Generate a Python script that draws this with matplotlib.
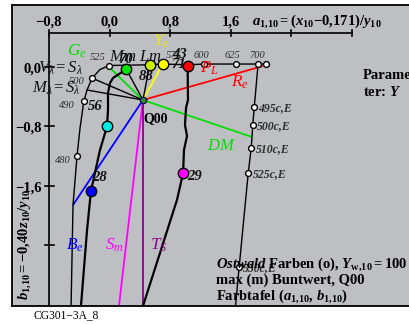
import matplotlib
matplotlib.use("Agg")
import matplotlib.pyplot as plt

plt.rcParams['font.family'] = ['Liberation Serif', 'DejaVu Serif']
plt.rcParams['mathtext.fontset'] = 'custom'
plt.rcParams['mathtext.rm'] = 'Liberation Serif'
plt.rcParams['mathtext.it'] = 'Liberation Serif:italic'
plt.rcParams['mathtext.bf'] = 'Liberation Serif:bold'
plt.rcParams['mathtext.bfit'] = 'Liberation Serif:bold:italic'

# ---- axis scales -------------------------------------------------------
a_ticks = [-0.8, 0.0, 0.8, 1.6, 2.4, 3.2]
a_tick_labels = ['−0,8', '0,0', '0,8', '1,6', '', '']
b_ticks = [0.0, -0.8, -1.6, -2.4]
b_tick_labels = ['0,0', '−0,8', '−1,6', '']
axis_b = 0.46          # height of the drawn a-axis
axis_a = -0.8          # position of the drawn b-axis

# ---- achromatic point Q00 ----------------------------------------------
q00_a, q00_b = 0.44, -0.445

# ---- spectral locus (left branch, top edge) ----------------------------
locus_a = [-0.51, -0.483, -0.43, -0.39, -0.34, -0.298, -0.23, -0.127, -0.01,
           0.53, 0.70, 1.03, 1.25, 1.67, 1.96, 2.06]
locus_b = [-3.30, -1.86, -1.20, -0.82, -0.46, -0.31, -0.15, -0.034, 0.02,
           0.03, 0.04, 0.03, 0.04, 0.04, 0.04, 0.04]
wl_labels = ['480', '490', '500', '525', '600', '625', '700', '']
wl_a = [-0.43, -0.34, -0.23, -0.01, 1.25, 1.67, 1.96, 2.06]
wl_b = [-1.20, -0.46, -0.15, 0.02, 0.04, 0.04, 0.04, 0.04]

# ---- compensatory wavelengths (c,E) ------------------------------------
comp_line_a = [1.96, 1.91, 1.89, 1.87, 1.83, 1.71, 1.655]
comp_line_b = [0.04, -0.54, -0.78, -1.09, -1.43, -2.70, -3.30]
comp_labels = ['495c,E', '500c,E', '510c,E', '525c,E', '550c,E']
comp_a = [1.91, 1.89, 1.87, 1.83, 1.71]
comp_b = [-0.54, -0.78, -1.09, -1.43, -2.70]

# ---- Ostwald colours of maximum chroma ---------------------------------
ost_labels = ['70', '88', '43', '71', '56', '28', '29']
ost_a = [0.22, 0.53, 0.70, 1.03, -0.034, -0.246, 0.97]
ost_b = [-0.03, 0.03, 0.04, 0.01, -0.80, -1.67, -1.43]
ost_colors = ['#00e000', '#c8f000', '#ffff00', '#ff0000', '#00e8e8', '#0000ff', '#ff00ff']

# thick hue-series curves through the Ostwald colours
gb_curve_a = [0.22, 0.045, 0.005, -0.021, -0.021, -0.034, -0.127, -0.246, -0.298, -0.384]
gb_curve_b = [-0.03, -0.148, -0.216, -0.35, -0.58, -0.80, -1.12, -1.67, -2.20, -3.30]
rm_curve_a = [1.03, 1.035, 1.009, 0.995, 1.022, 0.982, 0.97, 0.89, 0.416]
rm_curve_b = [0.01, -0.445, -0.55, -0.78, -0.93, -1.12, -1.43, -1.79, -3.30]

# ---- lines from Q00 to elementary and limiting hues --------------------
hue_names = ['Ge', 'Ye', 'Re', 'DM', 'Be', 'Sm', 'TS']
hue_end_a = [-0.021, 0.70, 2.025, 1.88, -0.483, 0.115, 0.44]
hue_end_b = [0.013, 0.04, 0.013, -0.943, -1.86, -3.30, -3.30]
hue_colors = ['#00e000', '#ffff00', '#ff0000', '#00e000', '#0000ff', '#ff00ff', '#8b008b']

# black rays from Q00 (Vλ=Sλ, Mλ=Sλ and to the max-chroma colours)
ray_end_a = [-0.23, -0.298, 0.22, 0.53]
ray_end_b = [-0.15, -0.31, -0.03, 0.03]

# ------------------------------------------------------------------------
W, H = 409, 324
fig = plt.figure(figsize=(W / 100, H / 100), dpi=100)
fig.patch.set_facecolor('white')

ax = fig.add_axes([12 / W, (H - 306) / H, 400 / W, 301 / H])
ax.set_xlim(-1.2884, 3.992)
ax.set_ylim(-3.221, 0.8356)
ax.set_facecolor('#bebfc3')
ax.set_xticks([])
ax.set_yticks([])
for side in ('left', 'top', 'bottom'):
    ax.spines[side].set_linewidth(1.3)
ax.spines['right'].set_visible(False)

# drawn axes with ticks
ax.plot([a_ticks[0], a_ticks[-1]], [axis_b, axis_b], color='black', lw=1.2)
ax.plot([axis_a, axis_a], [axis_b, -3.4], color='black', lw=1.2)
for a, lab in zip(a_ticks, a_tick_labels):
    ax.plot([a, a], [axis_b - 0.045, axis_b + 0.04], color='black', lw=1.2)
    if lab:
        ax.annotate(lab, (a, axis_b), xytext=(0, 7.5), textcoords='offset points',
                    ha='center', va='center', fontsize=10.5, fontweight='bold')
for b, lab in zip(b_ticks, b_tick_labels):
    ax.plot([axis_a - 0.05, axis_a + 0.07], [b, b], color='black', lw=1.2)
    if lab:
        ax.annotate(lab, (axis_a, b), xytext=(-5.5, -1.5), textcoords='offset points',
                    ha='right', va='center', fontsize=10.5, fontweight='bold')

# coloured hue lines from Q00
for ea, eb, c in zip(hue_end_a, hue_end_b, hue_colors):
    ax.plot([q00_a, ea], [q00_b, eb], color=c, lw=1.3, solid_capstyle='butt')

# black rays
for ea, eb in zip(ray_end_a, ray_end_b):
    ax.plot([q00_a, ea], [q00_b, eb], color='black', lw=1.0)

# spectral locus and compensatory line
ax.plot(locus_a, locus_b, color='black', lw=1.0)
ax.plot(comp_line_a, comp_line_b, color='black', lw=1.0)

# thick hue-series curves
ax.plot(gb_curve_a, gb_curve_b, color='black', lw=1.6)
ax.plot(rm_curve_a, rm_curve_b, color='black', lw=1.6)

# markers
ax.plot(wl_a, wl_b, 'o', ms=4.2, mfc='white', mec='black', mew=1.0, ls='none', zorder=5)
ax.plot(comp_a, comp_b, 'o', ms=4.2, mfc='white', mec='black', mew=1.0, ls='none', zorder=5)
for a, b, c in zip(ost_a, ost_b, ost_colors):
    ax.plot(a, b, 'o', ms=7.5, mfc=c, mec='black', mew=1.0, zorder=6)
ax.plot(q00_a, q00_b, 'o', ms=4.5, mfc='#2f8f2f', mec='#101060', mew=1.0, zorder=6)

grey = '#2e2e2e'
# wavelength labels
wl_off = [(-16, -5), (-18, -5), (-17, -4), (-14, 4), (-8, 4), (-8, 4), (-6, 4), (0, 0)]
for lab, a, b, off in zip(wl_labels, wl_a, wl_b, wl_off):
    if lab:
        ax.annotate(lab, (a, b), xytext=off, textcoords='offset points',
                    fontsize=7.5, style='italic', color=grey, ha='left', va='baseline')
for lab, a, b in zip(comp_labels, comp_a, comp_b):
    ax.annotate(lab, (a, b), xytext=(3, -3), textcoords='offset points',
                fontsize=8.5, style='italic', fontweight='bold', color=grey,
                ha='left', va='baseline')

# Ostwald colour numbers
ost_off = [(-6, 4.5), (-8, -11), (7, 4.5), (-12, -1.5), (-14, 11.5), (1, 7), (3, -5)]
for lab, a, b, off in zip(ost_labels, ost_a, ost_b, ost_off):
    ax.annotate(lab, (a, b), xytext=off, textcoords='offset points',
                fontsize=10.5, style='italic', fontweight='bold', color='#111111',
                ha='left', va='baseline', zorder=7)
ax.annotate('Q00', (q00_a, q00_b), xytext=(0, -16), textcoords='offset points',
            fontsize=10, fontweight='bold', ha='left', va='baseline')


def put(x, y, s, **kw):
    kw.setdefault('ha', 'left')
    kw.setdefault('va', 'baseline')
    fig.text(x / W, 1 - y / H, s, **kw)


# hue names
put(67, 56, r'$G_e$', color='#00e000', fontsize=12.5)
put(153, 46, r'$Y_e$', color='#e8e800', fontsize=12.5)
put(200, 73, r'$P_L$', color='#ff0000', fontsize=12.5)
put(231, 87, r'$R_e$', color='#ff0000', fontsize=12.5)
put(207, 150, r'$DM$', color='#00e000', fontsize=12)
put(66, 250, r'$B_e$', color='#0000ff', fontsize=12.5)
put(105, 250, r'$S_m$', color='#ff00ff', fontsize=12.5)
put(150, 250, r'$T_S$', color='#8b008b', fontsize=12.5)
put(109, 61, r'$Mm$', color='#111111', fontsize=12)
put(139, 61, r'$Lm$', color='#111111', fontsize=12)
put(166, 58, '575', style='italic', color=grey, fontsize=7.5)
put(38, 73, r'$V_\lambda = S_\lambda$', color='#111111', fontsize=12)
put(32, 93, r'$M_\lambda = S_\lambda$', color='#111111', fontsize=12)

# axis titles
put(252, 25, r'$\mathbfit{a}_{\mathbf{1{,}10}}\mathbf{=(}\mathbfit{x}_{\mathbf{10}}'
             r'\mathbf{-0{,}171)/}\mathbfit{y}_{\mathbf{10}}$', fontsize=10.5)
fig.text(25 / W, 1 - 244 / H,
         r'$\mathbfit{b}_{\mathbf{1{,}10}}\mathbf{=-0{,}40}\mathbfit{z}_{\mathbf{10}}'
         r'\mathbf{/}\mathbfit{y}_{\mathbf{10}}$',
         rotation=90, ha='center', va='center', fontsize=10.5)

# annotations
put(363, 79, 'Parame-', fontweight='bold', fontsize=10.5)
put(363, 96, r'ter: $\mathbfit{Y}$', fontweight='bold', fontsize=10.5)
put(216, 268, r'$\mathbfit{Ostwald}$ Farben (o), $\mathbfit{Y}_{\mathbf{w{,}10}}\mathbf{=100}$',
    fontweight='bold', fontsize=10.5)
put(216, 284, 'max (m) Buntwert, Q00', fontweight='bold', fontsize=10.5)
put(216, 300, r'Farbtafel ($\mathbfit{a}_{\mathbf{1{,}10}}$, $\mathbfit{b}_{\mathbf{1{,}10}}$)',
    fontweight='bold', fontsize=10.5)
put(33, 318, 'CG301−3A_8', fontsize=8.3)

fig.savefig('out.png', dpi=100, facecolor='white')
